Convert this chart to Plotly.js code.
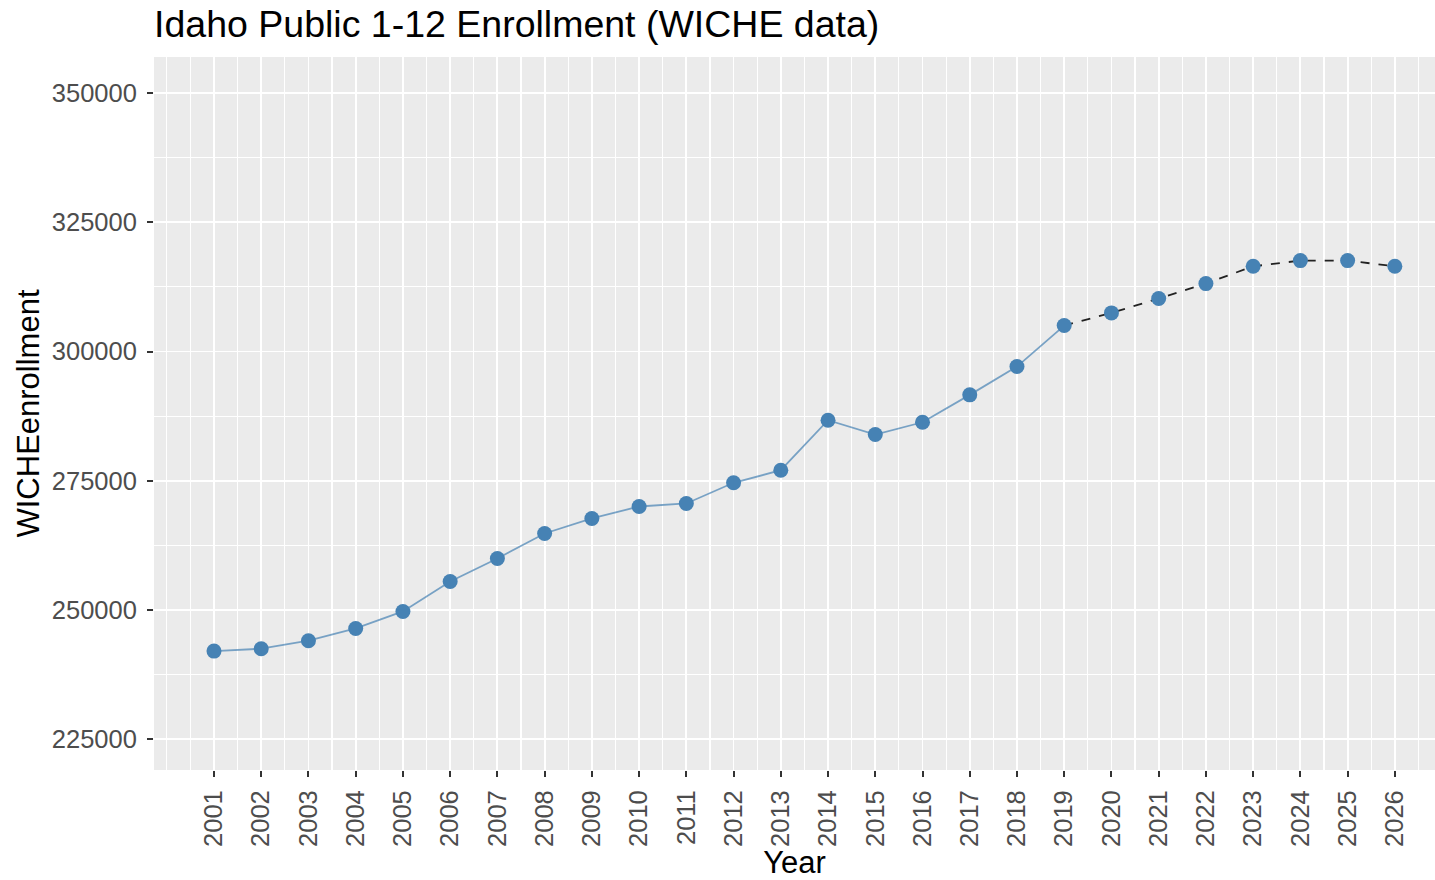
<!DOCTYPE html>
<html>
<head>
<meta charset="utf-8">
<script src="https://cdn.plot.ly/plotly-3.0.1.min.js"></script>
<style>
  html, body { margin: 0; padding: 0; background: #ffffff; }
  #chart { width: 1435px; height: 880px; }
</style>
</head>
<body>
<div id="chart"></div>
<script>
// WICHE enrollment, actual up to 2019 then projected
var years = [2001, 2002, 2003, 2004, 2005, 2006, 2007, 2008, 2009, 2010, 2011, 2012, 2013,
	2014, 2015, 2016, 2017, 2018, 2019, 2020, 2021, 2022, 2023, 2024, 2025, 2026];
var enrollment = [242060, 242520, 244070, 246440, 249730, 255530, 259980, 264810, 267710, 270030,
	270610, 274610, 277040, 286710, 283950, 286320, 291620, 297090, 305020, 307470, 310240,
	313140, 316480, 317580, 317580, 316480];
var lastActualYear = 2019;
var yTicks = [225000, 250000, 275000, 300000, 325000, 350000];

var actualX = [], actualY = [], projX = [], projY = [];
for (var i = 0; i < years.length; i++) {
	if (years[i] <= lastActualYear) {
		actualX.push(years[i]);
		actualY.push(enrollment[i]);
	}
	if (years[i] >= lastActualYear) {
		projX.push(years[i]);
		projY.push(enrollment[i]);
	}
}

var steelblue = '#4682B4';
var tickFont = {family: 'Liberation Sans, Arial, sans-serif', size: 25.5, color: '#4d4d4d'};

var actualLine = {
	x: actualX,
	y: actualY,
	mode: 'lines',
	type: 'scatter',
	line: {color: 'rgba(70,130,180,0.7)', width: 1.8},
	hoverinfo: 'skip'
};

var projLine = {
	x: projX,
	y: projY,
	mode: 'lines',
	type: 'scatter',
	line: {color: '#222222', width: 1.8, dash: 'dash'},
	hoverinfo: 'skip'
};

var points = {
	x: years,
	y: enrollment,
	mode: 'markers',
	type: 'scatter',
	marker: {color: steelblue, size: 15},
	hoverinfo: 'x+y'
};

var layout = {
	width: 1435,
	height: 880,
	showlegend: false,
	paper_bgcolor: '#ffffff',
	plot_bgcolor: '#EBEBEB',
	margin: {l: 154, r: 0, t: 57, b: 110, pad: 0},
	title: {
		text: 'Idaho Public 1-12 Enrollment (WICHE data)',
		font: {family: 'Liberation Sans, Arial, sans-serif', size: 37.5, color: '#000000'},
		xref: 'paper',
		x: 0,
		xanchor: 'left',
		yref: 'container',
		y: 0.973,
		yanchor: 'middle'
	},
	xaxis: {
		range: [1999.73, 2026.85],
		tickmode: 'array',
		tickvals: years,
		ticktext: years.map(String),
		tickangle: -90,
		tickfont: tickFont,
		ticks: 'outside',
		ticklen: 6,
		tickwidth: 2,
		tickcolor: '#333333',
		ticklabelstandoff: 3,
		showgrid: true,
		gridcolor: '#ffffff',
		gridwidth: 1.8,
		minor: {dtick: 0.5, tick0: 2000, showgrid: true, gridcolor: '#ffffff', gridwidth: 1.2, ticks: ''},
		zeroline: false,
		showline: false,
		automargin: false,
		title: {
			text: 'Year',
			font: {family: 'Liberation Sans, Arial, sans-serif', size: 31, color: '#000000'},
			standoff: 17
		}
	},
	yaxis: {
		range: [219065, 356960],
		tickmode: 'array',
		tickvals: yTicks,
		ticktext: yTicks.map(String),
		tickfont: tickFont,
		ticks: 'outside',
		ticklen: 6,
		tickwidth: 2,
		tickcolor: '#333333',
		ticklabelstandoff: 5,
		showgrid: true,
		gridcolor: '#ffffff',
		gridwidth: 1.8,
		minor: {dtick: 12500, tick0: 225000, showgrid: true, gridcolor: '#ffffff', gridwidth: 1.2, ticks: ''},
		zeroline: false,
		showline: false,
		automargin: false,
		title: {
			text: 'WICHEenrollment',
			font: {family: 'Liberation Sans, Arial, sans-serif', size: 31, color: '#000000'},
			standoff: 2
		}
	}
};

Plotly.newPlot('chart', [actualLine, projLine, points], layout, {displayModeBar: false, staticPlot: true});
</script>
</body>
</html>
